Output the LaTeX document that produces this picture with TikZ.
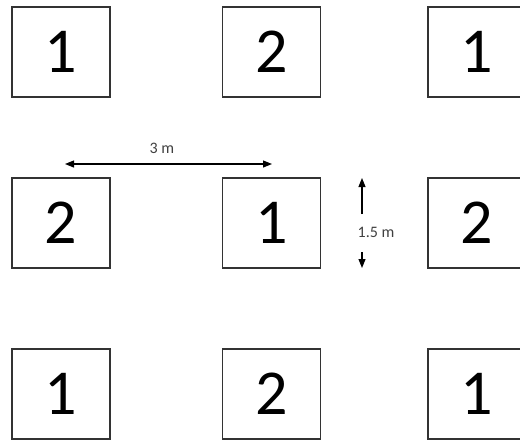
\documentclass[tikz,border=0pt]{standalone}
\usepackage{fontspec}
\setmainfont{Carlito}
\usetikzlibrary{arrows.meta}
\tikzset{
  cell/.style={draw=black!80, line width=1.1pt, fill=white, minimum width=98pt, minimum height=90pt, inner sep=0pt, font=\fontsize{64}{64}\selectfont},
  tip/.tip={Triangle[length=9pt,width=7pt]},
  dim/.style={line width=1.1pt, -tip},
  lbl/.style={font=\fontsize{16}{18}\selectfont, text=black!75, inner sep=1pt}
}
\newcommand{\dg}[1]{\raisebox{-4pt}{#1}}
\begin{document}
\begin{tikzpicture}[x=1pt,y=-1pt]
\useasboundingbox (0,0) rectangle (520,440);
\clip (0,0) rectangle (520,440);
% row 1
\node[cell] (a1) at (61,52) {\dg{1}};
\node[cell] (a2) at (271.5,52) {\dg{2}};
\node[cell] (a3) at (477,52) {\dg{1}};
% row 2
\node[cell] (b1) at (61,223) {\dg{2}};
\node[cell] (b2) at (271.5,223) {\dg{1}};
\node[cell] (b3) at (477,223) {\dg{2}};
% row 3
\node[cell] (c1) at (61,394) {\dg{1}};
\node[cell] (c2) at (271.5,394) {\dg{2}};
\node[cell] (c3) at (477,394) {\dg{1}};
% horizontal dimension
\coordinate (h1) at (65,164);
\coordinate (h2) at (272,164);
\draw[dim, tip-tip] (h1) -- (h2);
\node[lbl] (hl) at (162,148) {3 m};
% vertical dimension
\node[lbl] (vl) at (376,232) {1.5 m};
\coordinate (v0) at (362,214);
\coordinate (v1) at (362,178);
\coordinate (v2) at (362,252);
\coordinate (v3) at (362,268);
\draw[dim] (v0) -- (v1);
\draw[dim] (v2) -- (v3);
\end{tikzpicture}
\end{document}
